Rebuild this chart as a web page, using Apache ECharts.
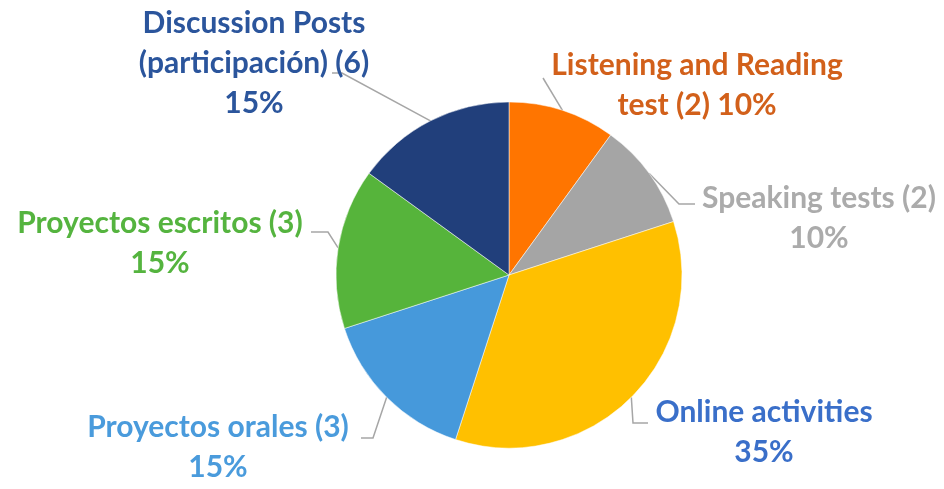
<!DOCTYPE html>
<html>
<head>
<meta charset="utf-8">
<script src="https://cdn.jsdelivr.net/npm/echarts@6/dist/echarts.min.js"></script>
<style>
  html, body { margin: 0; padding: 0; background: #fff; }
  #chart { width: 944px; height: 489px; }
</style>
</head>
<body>
<div id="chart"></div>
<script>
const categories = [
  'Listening and Reading test (2)',
  'Speaking tests (2)',
  'Online activities',
  'Proyectos orales (3)',
  'Proyectos escritos (3)',
  'Discussion Posts (participación) (6)'
]
const values = [10, 10, 35, 15, 15, 15]
// label text as it wraps in the picture, percent appended after
const labelNames = [
  'Listening and Reading\ntest (2) ',
  'Speaking tests (2)\n',
  'Online activities\n',
  'Proyectos orales (3)\n',
  'Proyectos escritos (3)\n',
  'Discussion Posts\n(participación) (6)\n'
]

const sliceColors = ['#FF7500', '#A5A5A5', '#FFC000', '#4699DB', '#56B43B', '#213F7B']
const textColors = ['#D2601A', '#ABABAB', '#3A6FC9', '#4A9BDC', '#55B43F', '#2B559C']

// where each label block sits, and the elbow of its leader line
const spots = [
  { x: 697, y: 85, line: [[543, 78], [543, 78]] },
  { x: 819, y: 218, line: [[679, 204], [695, 204]] },
  { x: 764, y: 432, line: [[633, 423], [648, 423]] },
  { x: 218, y: 447, line: [[373, 438], [361, 438]] },
  { x: 160, y: 243, line: [[328, 232], [311, 232]] },
  { x: 254, y: 63, line: [[342, 73], [332, 73]] }
]

const chart = echarts.init(document.getElementById('chart'))

const option = {
  backgroundColor: '#fff',
  animation: false,
  series: [
    {
      type: 'pie',
      center: [509, 275],
      radius: 173,
      startAngle: 90,
      clockwise: true,
      data: categories.map((name, i) => ({
        name,
        value: values[i],
        itemStyle: { color: sliceColors[i] },
        label: { color: textColors[i] }
      })),
      itemStyle: { borderColor: '#fff', borderWidth: 0.5 },
      label: {
        show: true,
        position: 'outside',
        overflow: 'none',
        fontFamily: 'Lato',
        fontWeight: 'bold',
        fontSize: 30,
        lineHeight: 40,
        align: 'center',
        formatter: p => labelNames[p.dataIndex] + Math.round(p.percent) + '%'
      },
      labelLine: {
        show: true,
        lineStyle: { color: '#A6A6A6', width: 1.5 }
      },
      labelLayout: params => {
        const s = spots[params.dataIndex]
        const start = params.labelLinePoints ? params.labelLinePoints[0] : s.line[0]
        return {
          x: s.x,
          y: s.y,
          align: 'center',
          verticalAlign: 'middle',
          labelLinePoints: [start, s.line[0], s.line[1]]
        }
      },
      emphasis: { disabled: true }
    }
  ]
}

chart.setOption(option)
window.addEventListener('resize', () => chart.resize())
</script>
</body>
</html>
